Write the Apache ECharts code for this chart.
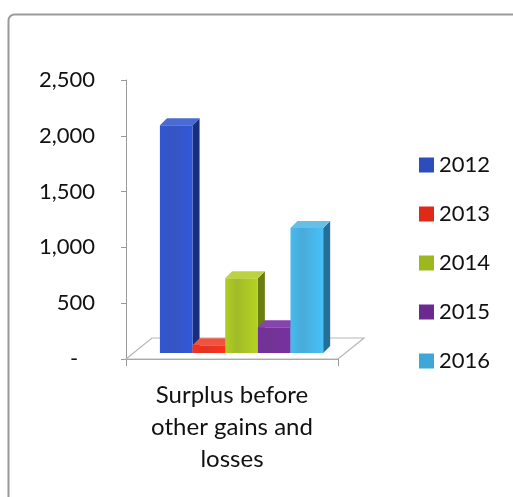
<!DOCTYPE html>
<html>
<head>
<meta charset="utf-8">
<script src="https://cdn.jsdelivr.net/npm/echarts@6/dist/echarts.min.js"></script>
<style>html,body{margin:0;padding:0;background:#fff;}#c{width:513px;height:497px;}</style>
</head>
<body>
<div id="c"></div>
<script>
const categories = ['Surplus before\nother gains and\nlosses'];
const years = ['2012', '2013', '2014', '2015', '2016'];
const values = [2040, 70, 670, 230, 1120];
const yMin = 0, yMax = 2500, yStep = 500;

const palette = [
  {front: '#2C4DBE', side: '#1A2E7E', top: '#4A6BD2'},
  {front: '#E02A18', side: '#9A1C0E', top: '#EE5540'},
  {front: '#9DB81E', side: '#6A7D12', top: '#BCD23E'},
  {front: '#6A2A8E', side: '#43195E', top: '#8644AC'},
  {front: '#3FA7D8', side: '#236F98', top: '#68BFE6'}
];

const FONT = 'Lato, "Open Sans", sans-serif';
const chart = echarts.init(document.getElementById('c'), null, {renderer: 'canvas'});

function renderFloor(params, api) {
  const base = api.coord([0, 0]);
  const band = api.size([1, 0])[0];
  const l = base[0] - band / 2, r = base[0] + band / 2, y = base[1];
  const dx = 26, dy = -21;
  return {
    type: 'polygon',
    shape: {points: [[l, y], [r, y], [r + dx, y + dy], [l + dx, y + dy]]},
    style: {fill: '#ffffff', stroke: '#b8b8b8', lineWidth: 1.2},
    z2: 0
  };
}

function makeBarRenderer(si) {
  return function (params, api) {
    const v = api.value(1);
    const base = api.coord([0, 0]);
    const top = api.coord([0, v]);
    const band = api.size([1, 0])[0];
    const bw = band * 0.154;
    const x = base[0] - band / 2 + band * 0.16 + si * bw;
    const lift = 6;
    const yb = base[1] - lift, yt = top[1] - lift;
    const dx = 7, dy = -7;
    const c = palette[si];
    const frontGrad = new echarts.graphic.LinearGradient(0, 0, 1, 0, [
      {offset: 0, color: echarts.color.lift(c.front, -0.12)},
      {offset: 0.35, color: echarts.color.lift(c.front, 0.05)},
      {offset: 1, color: echarts.color.lift(c.front, -0.15)}
    ]);
    return {
      type: 'group',
      children: [
        {type: 'polygon', z2: 1,
          shape: {points: [[x + bw, yb], [x + bw + dx, yb + dy], [x + bw + dx, yt + dy], [x + bw, yt]]},
          style: {fill: c.side}},
        {type: 'rect', z2: 2,
          shape: {x: x, y: yt, width: bw, height: yb - yt},
          style: {fill: frontGrad}},
        {type: 'polygon', z2: 3,
          shape: {points: [[x, yt], [x + bw, yt], [x + bw + dx, yt + dy], [x + dx, yt + dy]]},
          style: {fill: c.top}}
      ]
    };
  };
}

const series = [{
  name: 'floor', type: 'custom', renderItem: renderFloor,
  data: [[0, 0]], z: 1, silent: true
}];
years.forEach((y, i) => {
  series.push({
    name: y, type: 'custom', renderItem: makeBarRenderer(i),
    data: [[0, values[i]]], z: 2 + i,
    itemStyle: {color: palette[i].front},
    encode: {x: 0, y: 1}
  });
});

chart.setOption({
  animation: false,
  backgroundColor: '#ffffff',
  graphic: [{
    type: 'rect', left: 6, top: 12,
    shape: {width: 560, height: 540, r: 6},
    style: {fill: 'none', stroke: '#9a9a9a', lineWidth: 2}, silent: true, z: -10
  }],
  grid: {left: 126, right: 175, top: 80, bottom: 138, containLabel: false},
  xAxis: {
    type: 'category', data: categories, boundaryGap: true,
    axisLine: {show: true, lineStyle: {color: '#9a9a9a', width: 1}},
    axisTick: {show: true, length: 7, lineStyle: {color: '#9a9a9a'}},
    axisLabel: {
      fontFamily: FONT, fontSize: 24, color: '#111111',
      lineHeight: 32, margin: 20, align: 'center'
    }
  },
  yAxis: {
    type: 'value', min: yMin, max: yMax, interval: yStep,
    axisLine: {show: true, lineStyle: {color: '#9a9a9a', width: 1}},
    axisTick: {show: true, length: 5, lineStyle: {color: '#9a9a9a'}},
    splitLine: {show: false},
    axisLabel: {
      fontFamily: FONT, fontSize: 22, color: '#111111', margin: 31,
      padding: [7, 0, 0, 0],
      formatter: v => v === 0 ? '-   ' : v.toLocaleString('en-US')
    }
  },
  legend: {
    data: years, orient: 'vertical', left: 414, top: 148,
    itemWidth: 15, itemHeight: 15, itemGap: 25,
    icon: 'rect',
    textStyle: {fontFamily: FONT, fontSize: 22, color: '#111111', lineHeight: 24}
  },
  series: series
});
</script>
</body>
</html>
